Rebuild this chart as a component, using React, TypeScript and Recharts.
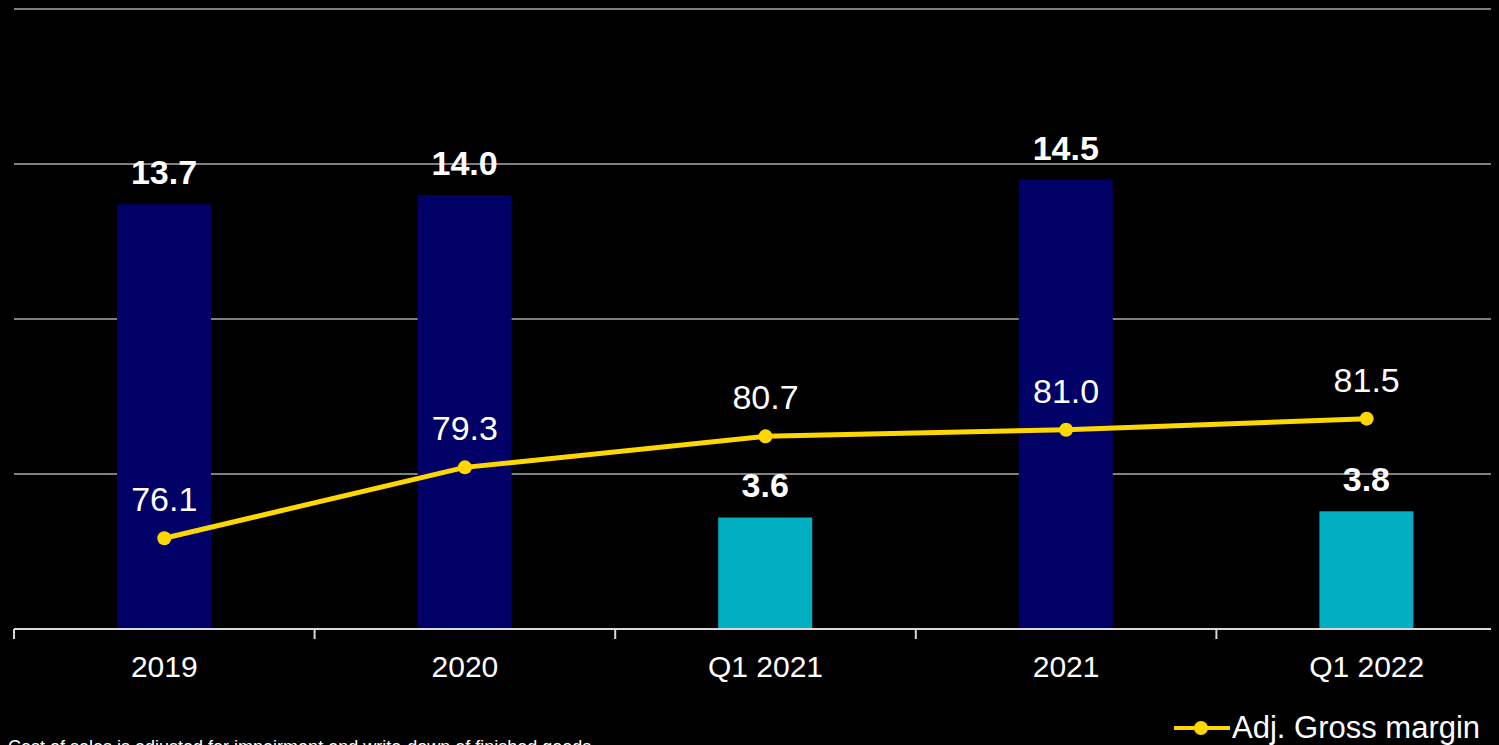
import React from "react";
import {
  ComposedChart,
  Bar,
  Line,
  XAxis,
  YAxis,
  CartesianGrid,
  LabelList,
  Legend,
  Cell,
} from "recharts";

const categories = ["2019", "2020", "Q1 2021", "2021", "Q1 2022"];
const revenue = [13.7, 14.0, 3.6, 14.5, 3.8];
const grossMargin = [76.1, 79.3, 80.7, 81.0, 81.5];
const barColors = ["#000066", "#000066", "#00AFC2", "#000066", "#00AFC2"];
const leftTicks = [0, 5, 10, 15, 20];
const footnote = "¹Cost of sales is adjusted for impairment and write-down of finished goods";

const data = categories.map((c, i) => ({
  name: c,
  revenue: revenue[i],
  margin: grossMargin[i],
}));

const CHART_W = 1520;
const CHART_H = 737;
const MARGIN = { top: 1, right: 11, left: 6, bottom: 0 };
const FONT = "'Liberation Sans', Arial, sans-serif";

const CategoryTick = (props: any) => {
  const { x, y, payload } = props;
  const plotW = CHART_W - MARGIN.left - MARGIN.right;
  const band = plotW / categories.length;
  const axisY = y - 8;
  return (
    <g>
      <line x1={x - band / 2} x2={x - band / 2} y1={axisY} y2={axisY + 10} stroke="#d9d9d9" strokeWidth={2} />
      <text
        x={x}
        y={axisY + 48}
        textAnchor="middle"
        fill="#ffffff"
        fontSize={30}
        fontFamily={FONT}
      >
        {payload.value}
      </text>
    </g>
  );
};

const LegendContent = () => (
  <div style={{ display: "flex", alignItems: "center", fontFamily: FONT, fontSize: 31, color: "#ffffff", height: 40 }}>
    <svg width={60} height={20}>
      <line x1={2} x2={58} y1={10} y2={10} stroke="#FFD700" strokeWidth={4} />
      <circle cx={29} cy={10} r={7} fill="#FFD700" />
    </svg>
    <span>Adj. Gross margin</span>
  </div>
);

export default function App() {
  return (
    <div style={{ position: "relative", width: 1491, height: 737, overflow: "hidden", background: "#000000" }}>
      <style>{"html,body{background:#000000;margin:0;padding:0;overflow:hidden}body{margin:8px}"}</style>
      <ComposedChart width={CHART_W} height={CHART_H} data={data} margin={MARGIN} style={{ background: "#000000" }}>
        <CartesianGrid vertical={false} stroke="#7f7f7f" strokeWidth={2} />
        <XAxis
          dataKey="name"
          axisLine={{ stroke: "#d9d9d9", strokeWidth: 2 }}
          tickLine={false}
          tick={<CategoryTick />}
          height={76}
          interval={0}
        />
        <YAxis hide domain={[0, 20]} ticks={leftTicks} />
        <YAxis yAxisId="right" orientation="right" hide domain={[72, 100]} />
        <Legend
          content={<LegendContent />}
          wrapperStyle={{ left: 1164, top: 700, height: 40, width: 340 }}
        />
        <Bar dataKey="revenue" barSize={94} isAnimationActive={false} legendType="none">
          {data.map((d, i) => (
            <Cell key={d.name} fill={barColors[i]} />
          ))}
          <LabelList
            dataKey="revenue"
            position="top"
            offset={20}
            fill="#ffffff"
            fontSize={34}
            fontWeight="bold"
            fontFamily={FONT}
            formatter={(v: any) => Number(v).toFixed(1)}
          />
        </Bar>
        <Line
          yAxisId="right"
          dataKey="margin"
          stroke="#FFD700"
          strokeWidth={5}
          dot={{ r: 7, fill: "#FFD700", stroke: "#FFD700", strokeWidth: 0 }}
          isAnimationActive={false}
        >
          <LabelList
            dataKey="margin"
            position="top"
            offset={27}
            fill="#ffffff"
            fontSize={34}
            fontFamily={FONT}
            formatter={(v: any) => Number(v).toFixed(1)}
          />
        </Line>
      </ComposedChart>
      <div
        style={{
          position: "absolute",
          left: -6,
          top: 729,
          fontFamily: FONT,
          fontSize: 18,
          color: "#ffffff",
          whiteSpace: "nowrap",
        }}
      >
        {footnote}
      </div>
    </div>
  );
}
